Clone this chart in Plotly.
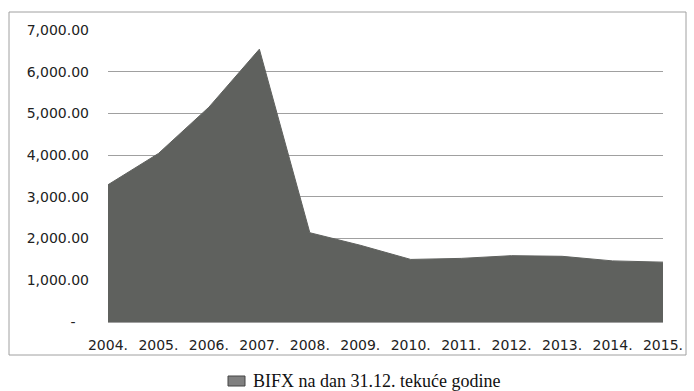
import plotly.graph_objects as go

years = ["2004.", "2005.", "2006.", "2007.", "2008.", "2009.",
         "2010.", "2011.", "2012.", "2013.", "2014.", "2015."]
bifx = [3290, 4040, 5150, 6540, 2140, 1840,
        1500, 1525, 1590, 1575, 1465, 1435]

y_ticks = [0, 1000, 2000, 3000, 4000, 5000, 6000, 7000]
y_tick_text = ["-\u00a0\u00a0\u00a0", "1,000.00", "2,000.00", "3,000.00",
               "4,000.00", "5,000.00", "6,000.00", "7,000.00"]

series_name = "BIFX na dan 31.12. tekuće godine"

W, H = 694, 391
L, R, T, B = 108, 31, 30, 69
pw, ph = W - L - R, H - T - B

def px_x(x):
    return (x - L) / pw

def px_y(y):
    return (H - B - y) / ph

fig = go.Figure()
fig.add_trace(go.Scatter(
    x=years, y=bifx, name=series_name,
    mode="lines", fill="tozeroy",
    line=dict(color="#5f615e", width=1),
    fillcolor="#5f615e",
    showlegend=False,
))

tick_font = dict(family="DejaVu Sans", size=14, color="#222222")

fig.update_layout(
    width=W, height=H,
    margin=dict(l=L, r=R, t=T, b=B),
    paper_bgcolor="white", plot_bgcolor="white",
    showlegend=False,
    xaxis=dict(
        type="category", range=[0, len(years) - 1],
        showgrid=False, zeroline=False,
        showline=True, linecolor="#a0a0a0", linewidth=1,
        ticks="", tickfont=tick_font, ticklabelstandoff=10,
    ),
    yaxis=dict(
        range=[0, 7000], tickvals=y_ticks, ticktext=y_tick_text,
        showgrid=True, gridcolor="#a0a0a0", gridwidth=1,
        zeroline=False, showline=False,
        ticks="", tickfont=tick_font, ticklabelstandoff=18,
    ),
    shapes=[
        # outer chart frame
        dict(type="rect", xref="paper", yref="paper",
             x0=px_x(9), x1=px_x(686), y0=px_y(355), y1=px_y(12),
             line=dict(color="#a0a0a0", width=1),
             fillcolor="rgba(0,0,0,0)", layer="below"),
        # legend key
        dict(type="rect", xref="paper", yref="paper",
             x0=px_x(228), x1=px_x(245), y0=px_y(386), y1=px_y(376),
             line=dict(color="#444444", width=1), fillcolor="#808080"),
    ],
    annotations=[
        dict(text=series_name, xref="paper", yref="paper",
             x=px_x(251), y=px_y(381), xanchor="left", yanchor="middle",
             showarrow=False,
             font=dict(family="Liberation Serif", size=18, color="#111111")),
    ],
)

fig.write_html("out.html")
